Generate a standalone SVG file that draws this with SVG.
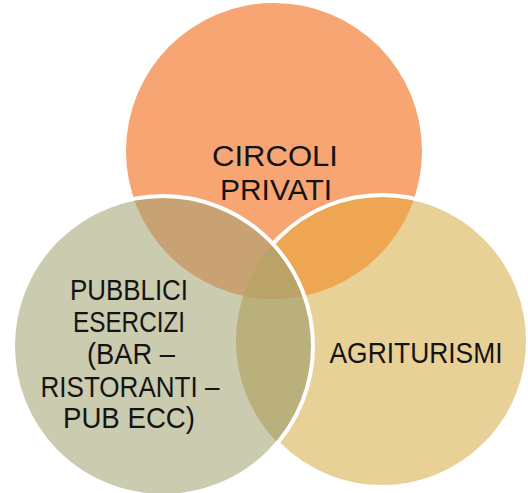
<svg xmlns="http://www.w3.org/2000/svg" width="528" height="493" viewBox="0 0 528 493">
  <style>
    .lbl { font-family: "Liberation Sans", Arial, sans-serif; font-size: 30px; fill: #141414; text-anchor: middle; }
    .edge { fill: none; stroke: #ffffff; stroke-width: 4; }
  </style>
  <defs>
    <clipPath id="inT"><circle cx="274" cy="151" r="148"/></clipPath>
    <clipPath id="inR"><circle cx="382" cy="341" r="146"/></clipPath>
    <clipPath id="inL"><circle cx="163" cy="346" r="150"/></clipPath>
  </defs>

  <rect width="528" height="493" fill="#ffffff"/>

  <!-- set areas -->
  <g id="circoli">
    <circle cx="274" cy="151" r="148" fill="#F8A574"/>
  </g>
  <g id="agriturismi">
    <circle cx="382" cy="341" r="146" fill="#E8D196"/>
    <g clip-path="url(#inR)">
      <circle cx="274" cy="151" r="148" fill="#EEA652"/>
    </g>
    <circle cx="382" cy="341" r="146" class="edge"/>
  </g>
  <g id="pubblici">
    <circle cx="163" cy="346" r="150" fill="#CACBAF"/>
    <g clip-path="url(#inL)">
      <circle cx="274" cy="151" r="148" fill="#C9A274"/>
      <circle cx="382" cy="341" r="146" fill="#BAB07B"/>
      <g clip-path="url(#inR)">
        <circle cx="274" cy="151" r="148" fill="#BBA267"/>
      </g>
    </g>
    <circle cx="163" cy="346" r="150" class="edge"/>
  </g>

  <!-- labels -->
  <g id="labels">
    <text class="lbl" x="275" y="166" textLength="126" lengthAdjust="spacingAndGlyphs">CIRCOLI</text>
    <text class="lbl" x="276" y="200" textLength="112" lengthAdjust="spacingAndGlyphs">PRIVATI</text>
    <text class="lbl" x="129" y="300" textLength="118" lengthAdjust="spacingAndGlyphs">PUBBLICI</text>
    <text class="lbl" x="129" y="332" textLength="112" lengthAdjust="spacingAndGlyphs">ESERCIZI</text>
    <text class="lbl" x="131" y="364" textLength="88" lengthAdjust="spacingAndGlyphs">(BAR –</text>
    <text class="lbl" x="130" y="397" textLength="179" lengthAdjust="spacingAndGlyphs">RISTORANTI –</text>
    <text class="lbl" x="129" y="428" textLength="132" lengthAdjust="spacingAndGlyphs">PUB ECC)</text>
    <text class="lbl" x="416" y="363" textLength="173" lengthAdjust="spacingAndGlyphs">AGRITURISMI</text>
  </g>
</svg>
